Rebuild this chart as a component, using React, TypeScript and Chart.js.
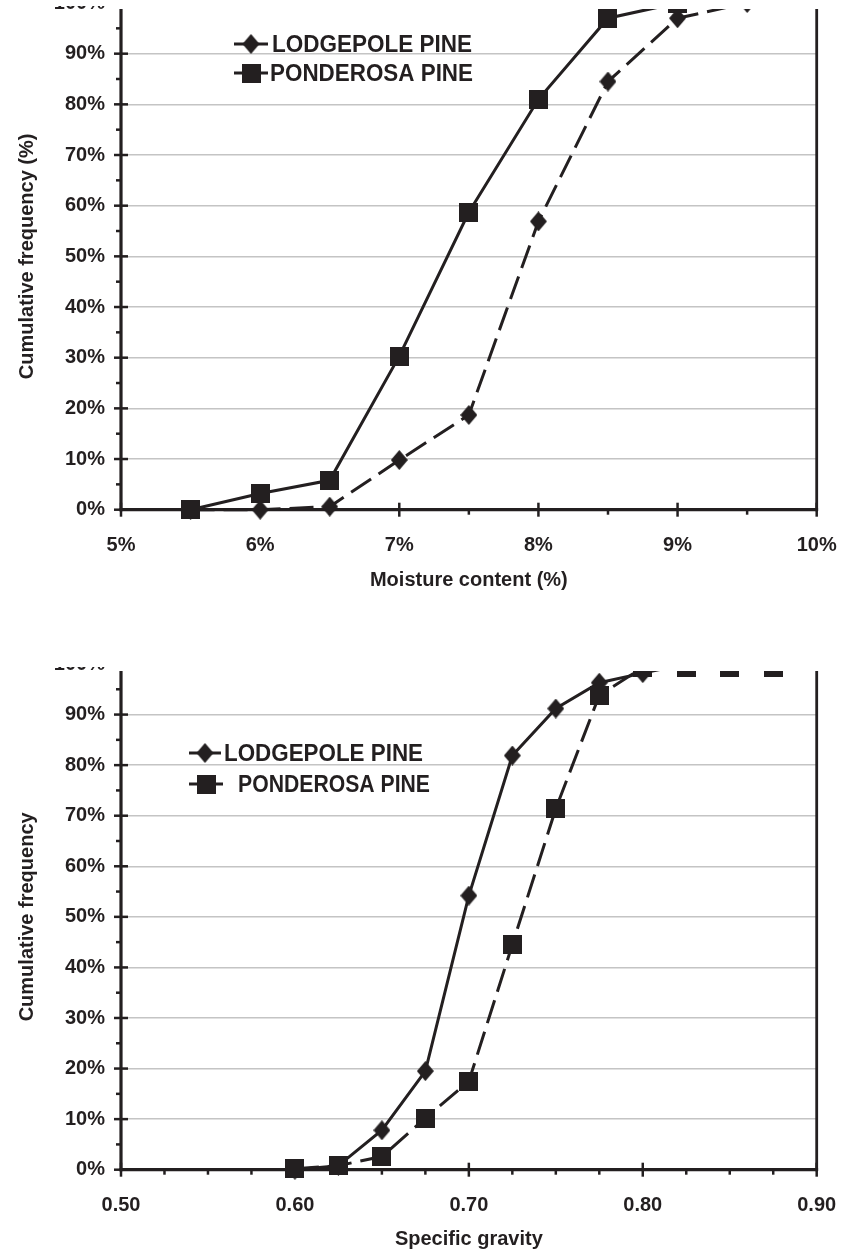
import React, { useEffect, useRef } from "react";
import { Chart, registerables } from "chart.js";

Chart.register(...registerables);

// ---------- DATA ----------
// Upper chart: moisture content (%)
const moistureTicks = [5, 6, 7, 8, 9, 10];
const lodgepoleMoistureX = [5.5, 6, 6.5, 7, 7.5, 8, 8.5, 9, 9.5];
const lodgepoleMoisture = [0, 0, 0.6, 9.8, 18.7, 56.9, 84.5, 97, 100];
const ponderosaMoistureX = [5.5, 6, 6.5, 7, 7.5, 8, 8.5, 9];
const ponderosaMoisture = [0, 3.2, 5.8, 30.3, 58.7, 81, 97, 100];

// Lower chart: specific gravity
const gravityTicks = [0.5, 0.6, 0.7, 0.8, 0.9];
const lodgepoleGravityX = [0.6, 0.625, 0.65, 0.675, 0.7, 0.725, 0.75, 0.775, 0.8, 0.825];
const lodgepoleGravity = [0, 0.8, 7.8, 19.5, 54.2, 81.9, 91.2, 96.3, 98.2, 100];
const ponderosaGravityX = [0.6, 0.625, 0.65, 0.675, 0.7, 0.725, 0.75, 0.775, 0.8, 0.825, 0.85, 0.875];
const ponderosaGravity = [0.2, 0.8, 2.6, 10.2, 17.5, 44.5, 71.4, 93.8, 99.3, 99.3, 99.3, 99.3];

const percentTicks = [0, 10, 20, 30, 40, 50, 60, 70, 80, 90, 100];
const seriesNames = ["LODGEPOLE PINE", "PONDEROSA PINE"];

// ---------- STYLE ----------
const INK = "#231f20";
const GRID = "#c4c4c4";
const FONT = "'Liberation Sans', Arial, sans-serif";
const FS = 20;

function makeDiamond(w: number, h: number) {
  const c = document.createElement("canvas");
  c.width = w;
  c.height = h;
  const g = c.getContext("2d")!;
  g.fillStyle = INK;
  g.beginPath();
  g.moveTo(w / 2, 0);
  g.lineTo(w, h / 2);
  g.lineTo(w / 2, h);
  g.lineTo(0, h / 2);
  g.closePath();
  g.fill();
  return c;
}
function makeSquare(s: number) {
  const c = document.createElement("canvas");
  c.width = s;
  c.height = s;
  const g = c.getContext("2d")!;
  g.fillStyle = INK;
  g.fillRect(0, 0, s, s);
  return c;
}

type LegendItem = { text: string; marker: HTMLCanvasElement; x0: number; x1: number; tx: number; dy: number; tw: number };

function framePlugin(xMinor: number, xMajor: number) {
  return {
    id: "frame",
    beforeDatasetsDraw(chart: any) {
      const { ctx, chartArea: a, scales } = chart;
      const xs = scales.x;
      const ys = scales.y;
      ctx.save();
      ctx.strokeStyle = INK;
      ctx.setLineDash([]);
      const seg = (x1: number, y1: number, x2: number, y2: number, w: number) => {
        ctx.lineWidth = w;
        ctx.beginPath();
        ctx.moveTo(x1, y1);
        ctx.lineTo(x2, y2);
        ctx.stroke();
      };
      seg(a.left, a.top - 12, a.left, a.bottom + 1.5, 3.2);
      seg(a.right, a.top - 12, a.right, a.bottom + 1.5, 2.8);
      seg(a.left - 1.5, a.bottom, a.right + 1.4, a.bottom, 3.2);
      for (let v = 0; v <= 100; v += 5) {
        const p = ys.getPixelForValue(v);
        if (v % 10 === 0) seg(a.left - 7, p, a.left + 7, p, 2.5);
        else seg(a.left - 5, p, a.left, p, 2.5);
      }
      const lo = xs.min;
      const hi = xs.max;
      const n = Math.round((hi - lo) / xMinor);
      for (let i = 0; i <= n; i++) {
        const v = lo + i * xMinor;
        const p = xs.getPixelForValue(v);
        const major = Math.abs(v / xMajor - Math.round(v / xMajor)) < 1e-6;
        if (major) seg(p, a.bottom - 7, p, a.bottom + 7, 2.5);
        else seg(p, a.bottom, p, a.bottom + 5, 2.5);
      }
      ctx.restore();
    },
  };
}

function legendPlugin(items: LegendItem[]) {
  return {
    id: "customLegend",
    afterDraw(chart: any) {
      const { ctx, chartArea: a } = chart;
      ctx.save();
      items.forEach((it) => {
        const y = a.top + it.dy;
        ctx.strokeStyle = INK;
        ctx.lineWidth = 3;
        ctx.setLineDash([]);
        ctx.beginPath();
        ctx.moveTo(it.x0, y);
        ctx.lineTo(it.x1, y);
        ctx.stroke();
        const m = it.marker;
        ctx.drawImage(m, (it.x0 + it.x1) / 2 - m.width / 2, y - m.height / 2);
        ctx.font = `bold 24px ${FONT}`;
        ctx.fillStyle = INK;
        ctx.textBaseline = "middle";
        ctx.textAlign = "left";
        const w = ctx.measureText(it.text).width;
        ctx.save();
        ctx.translate(it.tx, y + 1);
        ctx.scale(it.tw / w, 1);
        ctx.fillText(it.text, 0, 0);
        ctx.restore();
      });
      ctx.restore();
    },
  };
}

type ChartSpec = {
  height: number;
  xMin: number;
  xMax: number;
  xTicks: number[];
  xFmt: (v: number) => string;
  xMinor: number;
  xMajor: number;
  xTitle: string;
  yTitle: string;
  xAxisHeight: number;
  xTitlePadBottom: number;
  series: { x: number[]; y: number[]; dash: number[]; marker: HTMLCanvasElement; order: number }[];
  legend: LegendItem[];
};

function buildConfig(s: ChartSpec): any {
  return {
    type: "line",
    data: {
      datasets: s.series.map((d) => ({
        data: d.x.map((x, i) => ({ x, y: d.y[i] })),
        borderColor: INK,
        backgroundColor: INK,
        borderWidth: 3,
        borderDash: d.dash,
        pointStyle: d.marker,
        pointRadius: 9,
        pointHoverRadius: 9,
        tension: 0,
        clip: false,
        order: d.order,
      })),
    },
    options: {
      responsive: false,
      animation: false,
      devicePixelRatio: 1,
      layout: { padding: { top: 20, left: 0, right: 845 - 816.7, bottom: 0 } },
      plugins: { legend: { display: false }, tooltip: { enabled: false } },
      scales: {
        x: {
          type: "linear",
          min: s.xMin,
          max: s.xMax,
          afterBuildTicks: (axis: any) => {
            axis.ticks = s.xTicks.map((v) => ({ value: v }));
          },
          afterFit: (axis: any) => {
            axis.height = s.xAxisHeight;
            axis.paddingLeft = 0;
            axis.paddingRight = 0;
          },
          grid: { display: false, drawTicks: false },
          border: { display: false },
          ticks: {
            callback: (v: number) => s.xFmt(v),
            font: { family: FONT, size: FS, weight: "bold" },
            color: INK,
            padding: 24,
            maxRotation: 0,
            autoSkip: false,
          },
          title: {
            display: true,
            text: s.xTitle,
            font: { family: FONT, size: FS, weight: "bold" },
            color: INK,
            padding: { top: 0, bottom: s.xTitlePadBottom },
          },
        },
        y: {
          type: "linear",
          min: 0,
          max: 100,
          afterBuildTicks: (axis: any) => {
            axis.ticks = percentTicks.map((v) => ({ value: v }));
          },
          afterFit: (axis: any) => {
            axis.width = 121;
            axis.paddingTop = 0;
            axis.paddingBottom = 0;
          },
          grid: { color: GRID, lineWidth: 1.5, drawTicks: false },
          border: { display: false },
          ticks: {
            callback: (v: number) => v + "%",
            font: { family: FONT, size: FS, weight: "bold" },
            color: INK,
            padding: 16,
          },
          title: {
            display: true,
            text: s.yTitle,
            font: { family: FONT, size: FS, weight: "bold" },
            color: INK,
            padding: { top: 15, bottom: 0 },
          },
        },
      },
    },
    plugins: [framePlugin(s.xMinor, s.xMajor), legendPlugin(s.legend)],
  };
}

function ChartBox({ spec, clipTop, clipHeight, canvasTop, plotClip }: { spec: () => ChartSpec; clipTop: number; clipHeight: number; canvasTop: number; plotClip: number }) {
  const ref = useRef<HTMLCanvasElement | null>(null);
  useEffect(() => {
    if (!ref.current) return;
    const chart = new Chart(ref.current, buildConfig(spec()));
    return () => chart.destroy();
  }, []);
  const s = spec();
  return (
    <div style={{ position: "absolute", left: 0, top: clipTop, width: 845, height: clipHeight, overflow: "hidden" }}>
      <canvas ref={ref} width={845} height={s.height} style={{ position: "absolute", left: 0, top: canvasTop - clipTop, width: 845, height: s.height }} />
      <div style={{ position: "absolute", left: 119, top: 0, width: 726, height: plotClip - clipTop, background: "#fff" }} />
    </div>
  );
}

const topSpec = (): ChartSpec => {
  const diamond = makeDiamond(17, 20);
  const square = makeSquare(19);
  return {
    height: 640,
    xMin: 5,
    xMax: 10,
    xTicks: moistureTicks,
    xFmt: (v) => `${v}%`,
    xMinor: 0.5,
    xMajor: 1,
    xTitle: "Moisture content (%)",
    yTitle: "Cumulative frequency (%)",
    xAxisHeight: 113.3,
    xTitlePadBottom: 30.6,
    series: [
      { x: lodgepoleMoistureX, y: lodgepoleMoisture, dash: [24, 9], marker: diamond, order: 1 },
      { x: ponderosaMoistureX, y: ponderosaMoisture, dash: [], marker: square, order: 0 },
    ],
    legend: [
      { text: seriesNames[0], marker: diamond, x0: 234, x1: 268, tx: 272, dy: 41, tw: 200 },
      { text: seriesNames[1], marker: square, x0: 234, x1: 268, tx: 270, dy: 70, tw: 203 },
    ],
  };
};

const bottomSpec = (): ChartSpec => {
  const diamond = makeDiamond(17, 20);
  const square = makeSquare(19);
  return {
    height: 612,
    xMin: 0.5,
    xMax: 0.9,
    xTicks: gravityTicks,
    xFmt: (v) => v.toFixed(2),
    xMinor: 0.025,
    xMajor: 0.1,
    xTitle: "Specific gravity",
    yTitle: "Cumulative frequency",
    xAxisHeight: 86.3,
    xTitlePadBottom: 4.3,
    series: [
      { x: lodgepoleGravityX, y: lodgepoleGravity, dash: [], marker: diamond, order: 1 },
      { x: ponderosaGravityX, y: ponderosaGravity, dash: [24, 9], marker: square, order: 0 },
    ],
    legend: [
      { text: seriesNames[0], marker: diamond, x0: 189, x1: 221, tx: 224, dy: 89, tw: 199 },
      { text: seriesNames[1], marker: square, x0: 189, x1: 223, tx: 238, dy: 120, tw: 192 },
    ],
  };
};

export default function App() {
  return (
    <div style={{ position: "absolute", left: 0, top: 0, width: 845, height: 1256, background: "#fff", overflow: "hidden" }}>
      <ChartBox spec={topSpec} clipTop={5.6} clipHeight={600} canvasTop={-17.4} plotClip={9.2} />
      <ChartBox spec={bottomSpec} clipTop={667.3} clipHeight={590} canvasTop={644.3} plotClip={670.6} />
    </div>
  );
}
